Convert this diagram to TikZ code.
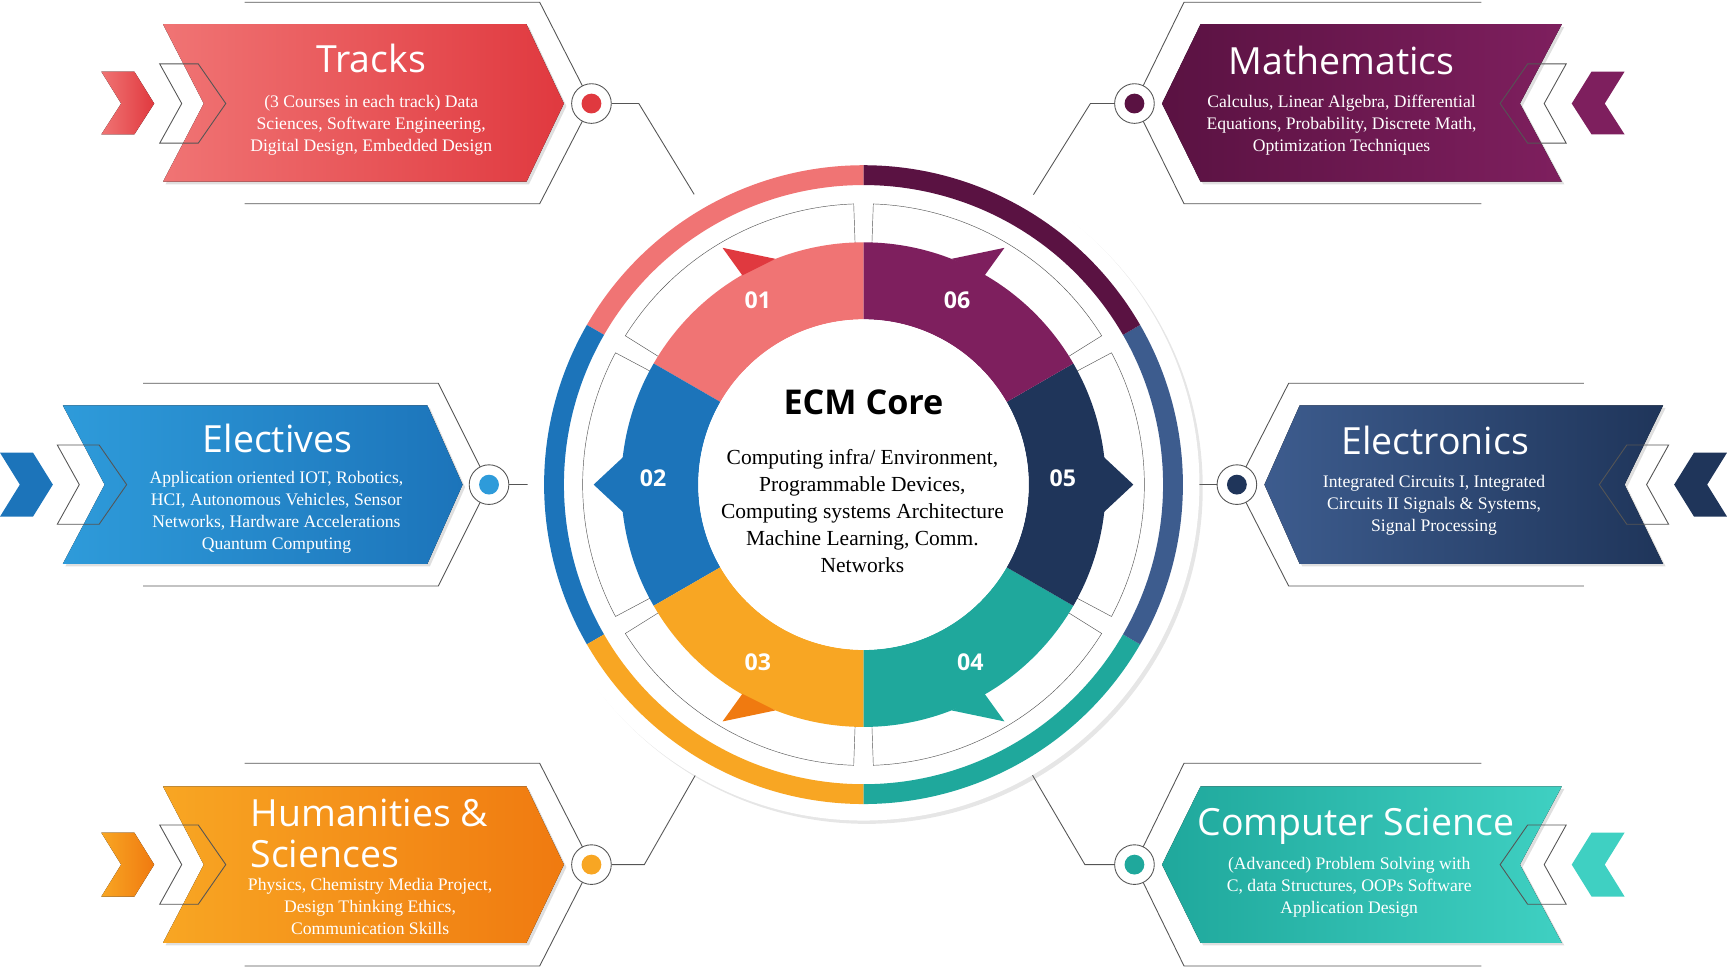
\documentclass[tikz,border=0pt]{standalone}
\usepackage{fontspec}
\setmainfont{Liberation Serif}
\newfontfamily\ttl{Open Sans}
\usetikzlibrary{shadows}
\definecolor{rA}{HTML}{F07474}\definecolor{rB}{HTML}{E0393F}
\definecolor{pA}{HTML}{5A1242}\definecolor{pB}{HTML}{7E1F5E}
\definecolor{bA}{HTML}{2E9BDA}\definecolor{bB}{HTML}{1C74BA}
\definecolor{nA}{HTML}{1F355A}\definecolor{nB}{HTML}{3D5C8E}
\definecolor{oA}{HTML}{F8A623}\definecolor{oB}{HTML}{F07A10}
\definecolor{tA}{HTML}{1FA89C}\definecolor{tB}{HTML}{3FD0C2}
\definecolor{ln}{HTML}{555555}
\newcommand{\seg}[5]{\fill[#1] (#2:#4) arc[start angle=#2,end angle=#3,radius=#4] -- (#3:#5) arc[start angle=#3,end angle=#2,radius=#5] -- cycle;}
\newcommand{\oseg}[4]{\draw[ln,thin,fill=white] (#1:#3) arc[start angle=#1,end angle=#2,radius=#3] -- (#2:#4) arc[start angle=#2,end angle=#1,radius=#4] -- cycle;}
\tikzset{frame/.style={ln,line width=0.8pt},
 ttltext/.style={text=white,font=\ttl\fontsize{34}{36}\selectfont},
 body/.style={text=white,font=\fontsize{16}{20}\selectfont,align=center},
 dotc/.style={circle,draw=ln,fill=white,minimum size=36pt,inner sep=0pt,line width=0.8pt}}
\begin{document}
\begin{tikzpicture}[x=1pt,y=-1pt]
\useasboundingbox (0,0) rectangle (1568,879);
% frames
\draw[frame] (222,2)--(490,2)--(537,94)--(490,185)--(222,185);
\draw[frame] (1345,2)--(1075,2)--(1030,94)--(1075,185)--(1345,185);
\draw[frame] (130,348)--(398,348)--(444,440)--(398,532)--(130,532);
\draw[frame] (1438,348)--(1170,348)--(1123,440)--(1170,532)--(1438,532);
\draw[frame] (222,693)--(490,693)--(537,785)--(490,877)--(222,877);
\draw[frame] (1345,693)--(1075,693)--(1030,785)--(1075,877)--(1345,877);
% connectors
\node[dotc] (c1) at (537,94) {}; \node[dotc] (c6) at (1030,94) {};
\node[dotc] (c2) at (444,440) {}; \node[dotc] (c5) at (1123,440) {};
\node[dotc] (c3) at (537,785) {}; \node[dotc] (c4) at (1030,785) {};
\coordinate (e1) at (658,222); \coordinate (e6) at (910,222);
\coordinate (e2) at (520,440); \coordinate (e5) at (1048,440);
\coordinate (e3) at (658,657); \coordinate (e4) at (910,657);
\draw[frame] (c1) -- (580,94) -- (e1);
\draw[frame] (c6) -- (990,94) -- (e6);
\draw[frame] (c2) -- (e2);
\draw[frame] (c5) -- (e5);
\draw[frame] (c3) -- (585,785) -- (e3);
\draw[frame] (c4) -- (985,785) -- (e4);
\fill[rB] (c1) circle (9); \fill[pA] (c6) circle (9); \fill[bA] (c2) circle (9);
\fill[nA] (c5) circle (9); \fill[oA] (c3) circle (9); \fill[tA] (c4) circle (9);
% banners
\fill[left color=rA,right color=rB,drop shadow={opacity=0.25}] (148,22)--(478,22)--(512,94)--(478,165)--(148,165)--(185,94)--cycle;
\fill[left color=pA,right color=pB,drop shadow={opacity=0.25}] (1055,94)--(1090,22)--(1418,22)--(1380,94)--(1418,165)--(1090,165)--cycle;
\fill[left color=bA,right color=bB,drop shadow={opacity=0.25}] (57,368)--(388,368)--(420,440)--(388,512)--(57,512)--(95,440)--cycle;
\fill[left color=nB,right color=nA,drop shadow={opacity=0.25}] (1148,440)--(1180,368)--(1510,368)--(1475,440)--(1510,512)--(1180,512)--cycle;
\fill[left color=oA,right color=oB,drop shadow={opacity=0.25}] (148,714)--(478,714)--(512,785)--(478,856)--(148,856)--(185,785)--cycle;
\fill[left color=tA,right color=tB,drop shadow={opacity=0.25}] (1055,785)--(1090,714)--(1418,714)--(1380,785)--(1418,856)--(1090,856)--cycle;
% chevrons
\fill[left color=rA,right color=rB] (92,65)--(122,65)--(140,94)--(122,122)--(92,122)--(110,94)--cycle;
\draw[frame] (145,58)--(180,58)--(205,94)--(180,130)--(145,130)--(165,94)--cycle;
\fill[pB] (1475,65)--(1445,65)--(1427,94)--(1445,122)--(1475,122)--(1457,94)--cycle;
\draw[frame] (1422,58)--(1387,58)--(1362,94)--(1387,130)--(1422,130)--(1402,94)--cycle;
\fill[bB] (0,411)--(30,411)--(48,440)--(30,469)--(0,469)--(18,440)--cycle;
\draw[frame] (52,404)--(90,404)--(115,440)--(90,476)--(52,476)--(72,440)--cycle;
\fill[nA] (1568,411)--(1538,411)--(1520,440)--(1538,469)--(1568,469)--(1550,440)--cycle;
\draw[frame] (1515,404)--(1477,404)--(1452,440)--(1477,476)--(1515,476)--(1495,440)--cycle;
\fill[left color=oA,right color=oB] (92,756)--(122,756)--(140,785)--(122,814)--(92,814)--(110,785)--cycle;
\draw[frame] (145,749)--(180,749)--(205,785)--(180,821)--(145,821)--(165,785)--cycle;
\fill[tB] (1475,756)--(1445,756)--(1427,785)--(1445,814)--(1475,814)--(1457,785)--cycle;
\draw[frame] (1422,749)--(1387,749)--(1362,785)--(1387,821)--(1422,821)--(1402,785)--cycle;
% banner texts
\node[ttltext] (t1) at (337,53) {Tracks};
\node[body] (b1) at (337,114) {(3 Courses in each track) Data\\Sciences, Software Engineering,\\Digital Design, Embedded Design};
\node[ttltext] (t6) at (1218,55) {Mathematics};
\node[body] (b6) at (1218,114) {Calculus, Linear Algebra, Differential\\Equations, Probability, Discrete Math,\\Optimization Techniques};
\node[ttltext] (t2) at (252,398) {Electives};
\node[body] (b2) at (251,465) {Application oriented IOT, Robotics,\\HCI, Autonomous Vehicles, Sensor\\Networks, Hardware Accelerations\\Quantum Computing};
\node[ttltext] (t5) at (1303,400) {Electronics};
\node[body] (b5) at (1302,459) {Integrated Circuits I, Integrated\\Circuits II Signals \& Systems,\\Signal Processing};
\node[ttltext,align=left,anchor=west,font=\ttl\fontsize{34}{37}\selectfont] (t3) at (224,757) {Humanities \&\\Sciences};
\node[body] (b3) at (336,823) {Physics, Chemistry Media Project,\\Design Thinking Ethics,\\Communication Skills};
\node[ttltext] (t4) at (1231,750) {Computer Science};
\node[body] (b4) at (1225,806) {(Advanced) Problem Solving with\\C, data Structures, OOPs Software\\Application Design};
% central wheel
\begin{scope}[shift={(784,440)}]
\fill[white,drop shadow={opacity=0.2,shadow xshift=3pt,shadow yshift=-3pt}] (0,0) circle (305);
\seg{rA}{-90}{-150}{272}{290}
\seg{bB}{-150}{-210}{272}{290}
\seg{oA}{-210}{-270}{272}{290}
\seg{tA}{90}{30}{272}{290}
\seg{nB}{30}{-30}{272}{290}
\seg{pA}{-30}{-90}{272}{290}
\foreach \a in {-92,-152,-212,88,28,-32}{\oseg{\a}{\a-56}{170}{255}}
\seg{rA}{-90}{-150}{150}{220}
\seg{bB}{-150}{-210}{150}{220}
\seg{oA}{-210}{-270}{150}{220}
\seg{tA}{90}{30}{150}{220}
\seg{nA}{30}{-30}{150}{220}
\seg{pB}{-30}{-90}{150}{220}
\fill[bB] (-215,-28)--(-245,0)--(-215,28)--cycle;
\fill[nA] (215,-28)--(245,0)--(215,28)--cycle;
\fill[rB] (-110,-190)--(-128,-215)--(-80,-205)--cycle;
\fill[pB] (110,-190)--(128,-215)--(80,-205)--cycle;
\fill[oB] (-110,190)--(-128,215)--(-80,205)--cycle;
\fill[tA] (110,190)--(128,215)--(80,205)--cycle;
\fill[white] (0,0) circle (150);
\end{scope}
\tikzset{num/.style={text=white,font=\ttl\bfseries\fontsize{21}{22}\selectfont}}
\node[num] (n1) at (688,273) {01}; \node[num] (n6) at (869,273) {06};
\node[num] (n2) at (593,434) {02}; \node[num] (n5) at (965,434) {05};
\node[num] (n3) at (688,601) {03}; \node[num] (n4) at (881,601) {04};
\node[font=\ttl\bfseries\fontsize{31}{33}\selectfont] (core) at (784,365) {ECM Core};
\node[align=center,font=\fontsize{19.5}{24.5}\selectfont] (cb) at (783,464) {Computing infra/ Environment,\\Programmable Devices,\\Computing systems Architecture\\Machine Learning, Comm.\\Networks};
\end{tikzpicture}
\end{document}
